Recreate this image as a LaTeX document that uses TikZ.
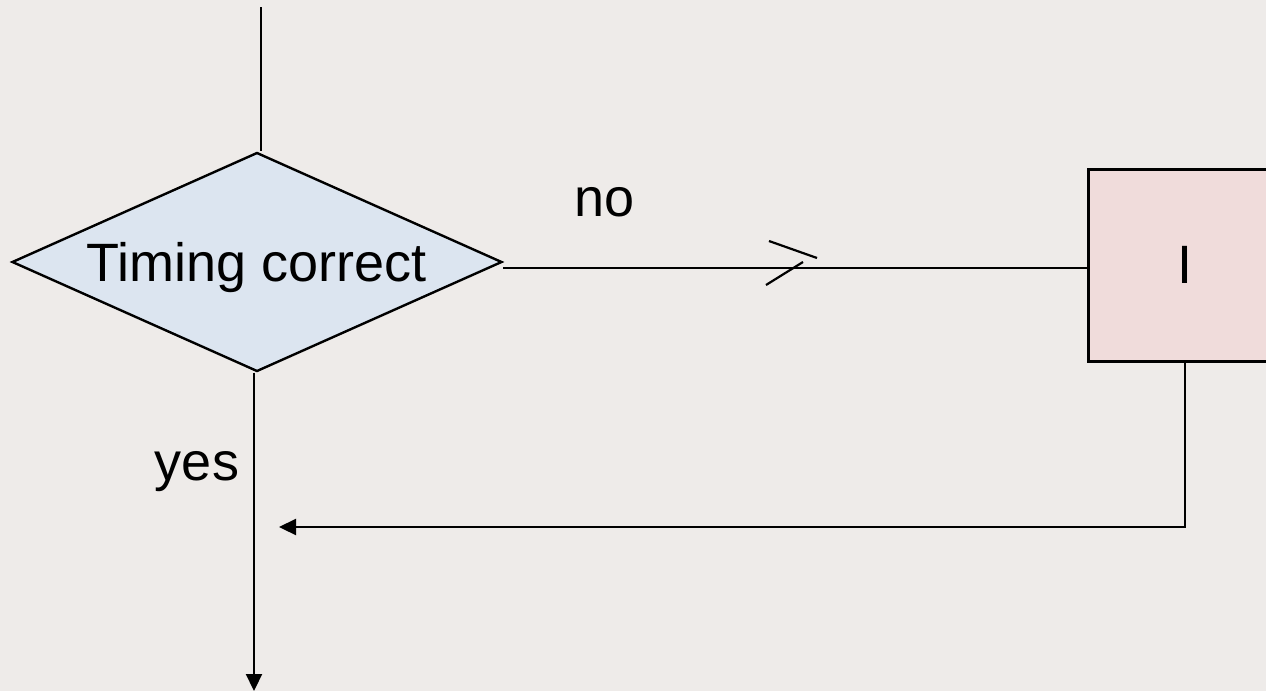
\documentclass[tikz,border=0pt]{standalone}
\usepackage{fontspec}
\setmainfont{Liberation Sans}
\usetikzlibrary{shapes.geometric,arrows.meta}
\definecolor{bgcol}{RGB}{238,235,233}
\definecolor{decfill}{RGB}{220,229,240}
\definecolor{boxfill}{RGB}{240,220,219}
\begin{document}
\begin{tikzpicture}[x=1pt,y=-1pt,
  every node/.style={font=\fontsize{54}{60}\selectfont},
  decision/.style={draw,line width=2.4pt,fill=decfill,diamond,aspect=2.24,
    inner sep=0pt,minimum width=490pt,minimum height=219pt,text depth=0pt},
  procbox/.style={draw,line width=3pt,fill=boxfill,inner sep=0pt,
    minimum width=194pt,minimum height=192pt},
  flow/.style={line width=2.2pt},
  flowarr/.style={flow,-{Triangle[length=17pt,width=16pt]}},
  lbl/.style={anchor=base,inner sep=0pt}]%
% flowchart fragment, coordinates are pixels of the slide
\fill[bgcol] (0,0) rectangle (1266,691);
\useasboundingbox (0,0) rectangle (1266,691);
\clip (0,0) rectangle (1266,691);
\node[decision] (dec) at (257,262) {Timing correct};
\node[procbox] (box) at (1185,265) {I};
\coordinate (entry) at (261,7);
\coordinate (exit) at (254,691);
\coordinate (retend) at (279,527);
\coordinate (mid) at (790,268);
\draw[flow] (entry)
 --(entry |- dec.north);
\draw[flow] ([yshift=-6pt]dec.east)
 --([yshift=-6pt]dec.east -| box.west);
\draw[flow] (mid) ++(-21,-27) --++(48,17);
\draw[flow] (mid) ++(-24,17) --++(37,-23);
\draw[flowarr] (box.south)
 |-(retend);
\draw[flowarr] (exit |- dec.south)
 --(exit);
\node[lbl] (nolbl) at (605,216) {no};
\node[lbl] (yeslbl) at (197,480) {yes};
\end{tikzpicture}
\end{document}
